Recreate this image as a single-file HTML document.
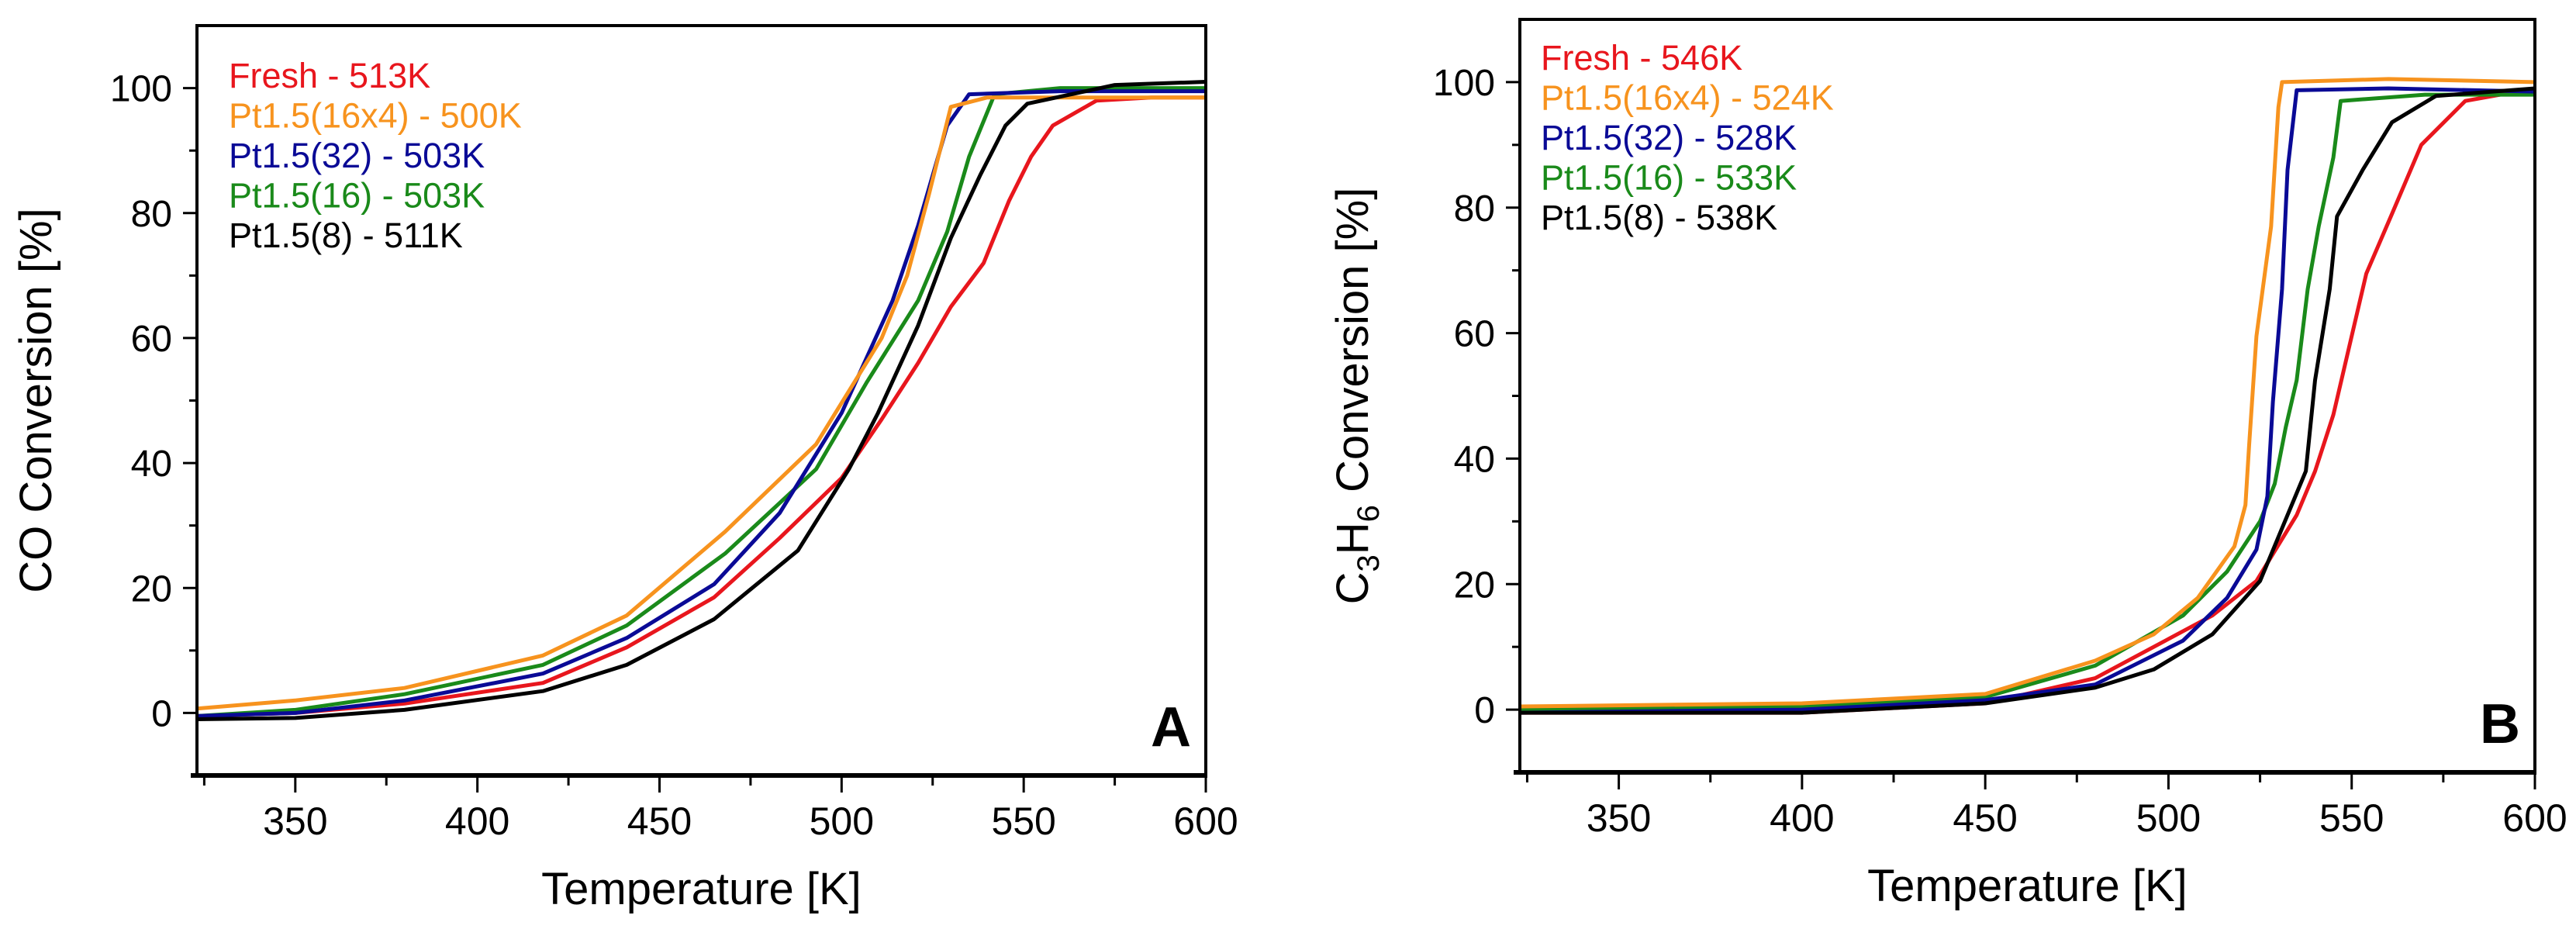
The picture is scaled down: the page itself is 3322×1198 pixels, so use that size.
<!DOCTYPE html>
<html><head><meta charset="utf-8"><style>
html,body{margin:0;padding:0;background:#fff;}
svg{display:block;font-family:"Liberation Sans",sans-serif;}
</style></head><body>
<svg id="fig" width="3322" height="1198" viewBox="0 0 3322 1198" xmlns="http://www.w3.org/2000/svg"></svg>
<script>
// ---------- data ----------
const seriesNames = ["Fresh","Pt1.5(16x4)","Pt1.5(32)","Pt1.5(16)","Pt1.5(8)"];
const seriesColors = ["#e8161d","#f7931e","#0a0a96","#1a8a1a","#000000"];
const legendA = ["Fresh - 513K","Pt1.5(16x4) - 500K","Pt1.5(32) - 503K","Pt1.5(16) - 503K","Pt1.5(8) - 511K"];
const legendB = ["Fresh - 546K","Pt1.5(16x4) - 524K","Pt1.5(32) - 528K","Pt1.5(16) - 533K","Pt1.5(8) - 538K"];
const xTicks = [350,400,450,500,550,600];
const yTicks = [0,20,40,60,80,100];

// Panel A (CO) – [T, conversion]
const aFreshT = [323,350,380,418,441,465,483,500,511,521,530,539,546,552,558,570,585,600];
const aFreshV = [-0.5,0,1.5,4.8,10.5,18.5,28,37.6,47,56,65,72,82,89,94,98,98.5,98.5];
const a16x4T = [323,350,380,418,441,468,493,511,518,524,530,540,560,600];
const a16x4V = [0.7,2,4,9.2,15.6,29,43,60,70,83,97,98.5,98.5,98.5];
const a32T = [323,350,380,418,441,465,483,500,514,521,529,535,560,600];
const a32V = [-0.5,0,2,6.3,12,20.6,32,48,66,78,94,99,99.5,99.5];
const a16T = [323,350,380,418,441,468,493,507,521,529,535,542,560,600];
const a16V = [-0.5,0.5,3,7.7,14,25.5,39,53,66,77,89,99,100,100];
const a8T = [323,350,380,418,441,465,488,502,510,521,530,538,545,551,575,600];
const a8V = [-1,-0.8,0.5,3.5,7.7,15,26,39,48,62,76,86,94,97.5,100.5,101];

// Panel B (C3H6)
const bFreshT = [323,400,450,480,512,524,535,540,545,550,554,561,569,581,600];
const bFreshV = [-0.5,-0.5,1,5,15,20.5,31,38,47,59.5,69.5,79,90,97,99];
const b16x4T = [323,400,450,480,496,508,518,521,522,524,528,530,531,560,600];
const b16x4V = [0.5,1,2.5,7.8,12,17.8,26,32.6,42,59.5,77,96,100,100.5,100];
const b32T = [323,400,450,480,504,516,524,527,528.5,531,532.5,535,560,600];
const b32V = [-0.5,0,1.5,4,11,17.8,25.5,34,49,67,86,98.7,99,98.5];
const b16T = [323,400,450,480,504,516,525,529,532,535,538,541,545,547,570,600];
const b16V = [0,0.5,2,7,15,22,30,36,45,52.5,67,77,88,97,98,98];
const b8T = [323,400,450,480,496,512,525,532.5,537.5,540,544,546,553,561,573,600];
const b8V = [-0.5,-0.5,1,3.5,6.4,12,20.5,31,38,52.5,67,78.6,86,93.6,97.8,99];

const panelA = [[aFreshT,aFreshV],[a16x4T,a16x4V],[a32T,a32V],[a16T,a16V],[a8T,a8V]];
const panelB = [[bFreshT,bFreshV],[b16x4T,b16x4V],[b32T,b32V],[b16T,b16V],[b8T,b8V]];

// ---------- drawing ----------
const NS = "http://www.w3.org/2000/svg";
const svg = document.getElementById("fig");
function mk(tag, attrs, parent){
  const e = document.createElementNS(NS, tag);
  for (const k in attrs) e.setAttribute(k, attrs[k]);
  (parent||svg).appendChild(e);
  return e;
}

function drawPanel(p){
  const g = mk("g", {});
  
  
  const sx = T => p.x0 + (T - 323) / (600 - 323) * (p.x1 - p.x0);
  const sy = v => p.y1 - (v + 10) / 120 * (p.y1 - p.y0);
  // series
  const order = [0,3,2,1,4];
  order.forEach(i => {
    const [Ts, Vs] = p.data[i];
    const pts = Ts.map((t, j) => sx(t).toFixed(1) + "," + sy(Vs[j]).toFixed(1)).join(" ");
    const pl = mk("polyline", {points: pts, fill: "none", stroke: seriesColors[i], "stroke-width": 5, "stroke-linejoin": "round"}, g);
    
    
  });
  // frame
  const fr = mk("rect", {x: p.x0, y: p.y0, width: p.x1 - p.x0, height: p.y1 - p.y0, fill: "none", stroke: "#000", "stroke-width": 4}, g);
  
  
  mk("line", {x1: p.x0 - 8, x2: p.x1 + 2, y1: p.y1, y2: p.y1, stroke: "#000", "stroke-width": 6}, g);
  // x ticks
  for (let T = 325; T <= 600; T += 25){
    const major = T % 50 === 0;
    mk("line", {x1: sx(T), x2: sx(T), y1: p.y1, y2: p.y1 + (major ? 22 : 13), stroke: "#000", "stroke-width": 3}, g);
  }
  xTicks.forEach(T => {
    const t = mk("text", {x: sx(T), y: p.y1 + 76, "font-size": 50, "text-anchor": "middle", fill: "#000"}, g);
    t.textContent = T;
    
    
  });
  // y ticks
  for (let v = 0; v <= 100; v += 10){
    const major = v % 20 === 0;
    mk("line", {x1: p.x0 - (major ? 18 : 10), x2: p.x0, y1: sy(v), y2: sy(v), stroke: "#000", "stroke-width": 3}, g);
  }
  yTicks.forEach(v => {
    const t = mk("text", {x: p.x0 - 32, y: sy(v) + 17, "font-size": 48, "text-anchor": "end", fill: "#000"}, g);
    t.textContent = v;
    
    
  });
  // x title
  const xt = mk("text", {x: (p.x0 + p.x1) / 2, y: p.y1 + 166, "font-size": 58, "text-anchor": "middle", fill: "#000"}, g);
  xt.textContent = "Temperature [K]";
  
  
  // y title
  const yt = mk("text", {x: 0, y: 0, "font-size": 58, "text-anchor": "middle", fill: "#000",
    transform: "translate(" + p.ytx + "," + ((p.y0 + p.y1) / 2) + ") rotate(-90)"}, g);
  
  
  if (p.chem){
    yt.innerHTML = 'C<tspan dy="14" font-size="40">3</tspan><tspan dy="-14">H</tspan><tspan dy="14" font-size="40">6</tspan><tspan dy="-14"> Conversion [%]</tspan>';
  } else {
    yt.textContent = "CO Conversion [%]";
  }
  // legend
  p.legend.forEach((s, i) => {
    const t = mk("text", {x: p.lx, y: p.ly + i * 51.5, "font-size": 45, fill: seriesColors[i]}, g);
    t.textContent = s;
    
    
  });
  // panel letter
  const L = mk("text", {x: p.letterX, y: p.y1 - 38, "font-size": 72, "font-weight": "bold", "text-anchor": "middle", fill: "#000"}, g);
  L.textContent = p.letter;
  
  
}

drawPanel({name: "panel-a-co", x0: 254, x1: 1555, y0: 33, y1: 1000, data: panelA, legend: legendA,
  lx: 295, ly: 113, letter: "A", letterX: 1510, ytx: 66, chem: false});
drawPanel({name: "panel-b-c3h6", x0: 1960, x1: 3269, y0: 25, y1: 996, data: panelB, legend: legendB,
  lx: 1987, ly: 90, letter: "B", letterX: 3224, ytx: 1764, chem: true});
</script>
</body></html>
